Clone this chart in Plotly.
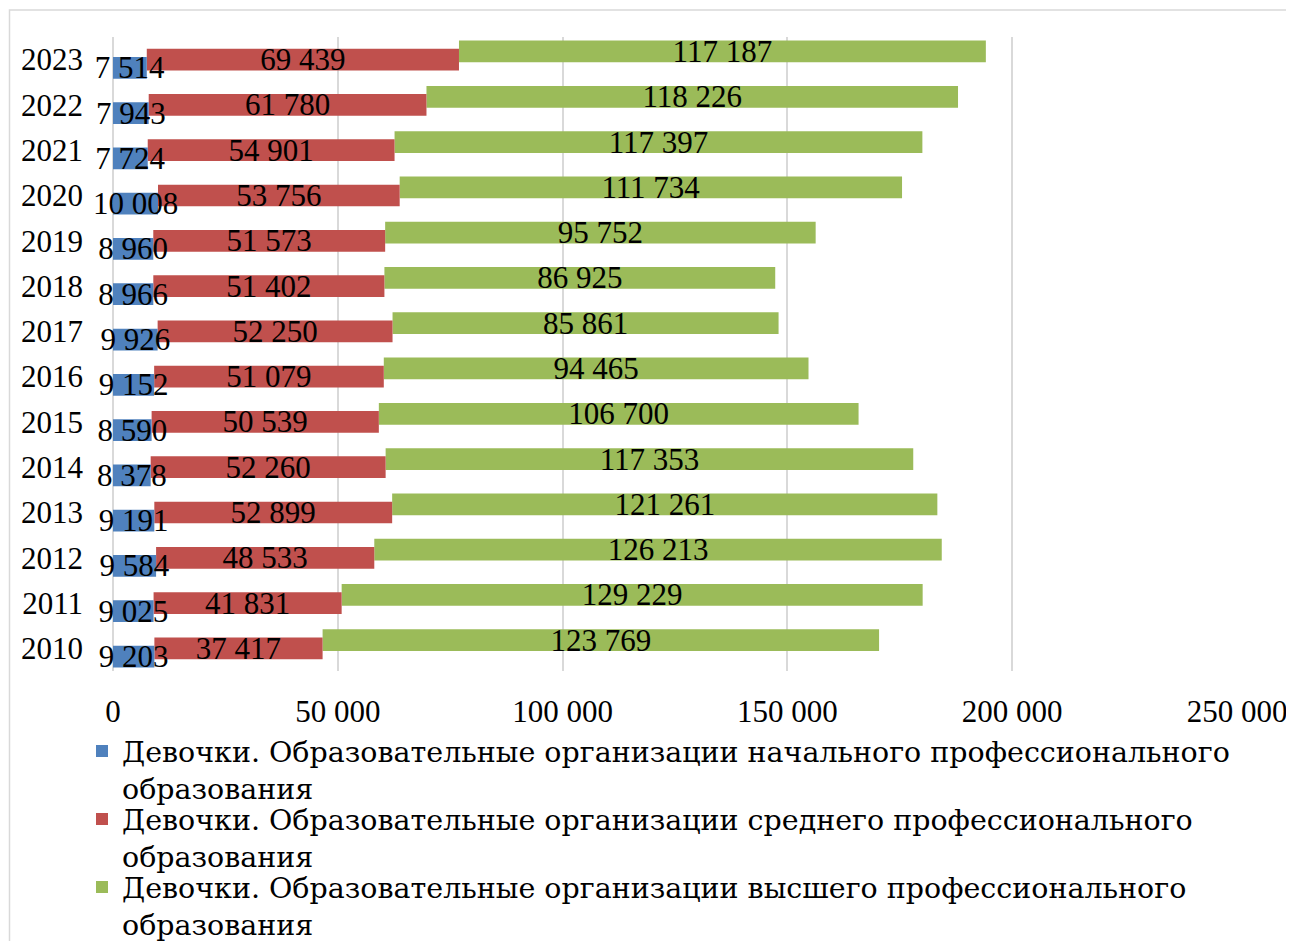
import numpy as np
import plotly.graph_objects as go

years = ["2010", "2011", "2012", "2013", "2014", "2015", "2016", "2017",
         "2018", "2019", "2020", "2021", "2022", "2023"]
primary = [9203, 9025, 9584, 9191, 8378, 8590, 9152, 9926, 8966, 8960, 10008, 7724, 7943, 7514]
secondary = [37417, 41831, 48533, 52899, 52260, 50539, 51079, 52250, 51402, 51573, 53756, 54901, 61780, 69439]
higher = [123769, 129229, 126213, 121261, 117353, 106700, 94465, 85861, 86925, 95752, 111734, 117397, 118226, 117187]
names = [
    "Девочки. Образовательные организации начального профессионального<br>образования",
    "Девочки. Образовательные организации среднего профессионального<br>образования",
    "Девочки. Образовательные организации высшего профессионального<br>образования",
]
colors = ["#4F81BD", "#C0504D", "#9BBB59"]
x_ticks = [0, 50000, 100000, 150000, 200000, 250000]

W, H = 1294, 941
OFF = 8  # page body margin
# plot area in screen pixels
SL, SR, ST, SB = 113, 1237, 37, 671
L = SL - OFF
T = ST - OFF
R = W - (SR - OFF)
B = H - (SB - OFF)
NUM_FONT = "Liberation Serif"
LEG_FONT = "DejaVu Serif"

def fmt(v):
    return f"{v:,}".replace(",", " ")

series = [primary, secondary, higher]
bar_w = 0.48
shifts = [-0.18, 0.0, 0.18]
legend_ids = ["legend", "legend2", "legend3"]

bases = []
acc = np.zeros(len(years))
for vals in series:
    bases.append(acc.copy())
    acc = acc + np.array(vals)

fig = go.Figure()
# draw in reverse so the first series' labels lie on top
for i in reversed(range(len(series))):
    vals = np.array(series[i])
    fig.add_trace(go.Bar(
        y=years, x=vals, base=bases[i], orientation="h",
        name=names[i], marker=dict(color=colors[i], line=dict(width=0)),
        width=bar_w, offset=-bar_w / 2 + shifts[i],
        text=[fmt(v) for v in vals], textposition="inside",
        insidetextanchor="middle", textangle=0, constraintext="none",
        insidetextfont=dict(family=NUM_FONT, size=31, color="black"),
        cliponaxis=False, legend=legend_ids[i], showlegend=True,
    ))

pw = W - L - R
ph = H - T - B

def px_x(sx):
    return (sx - OFF - L) / pw

def px_y(sy):
    return (H - B - (sy - OFF)) / ph

fig.update_layout(
    width=W, height=H,
    margin=dict(l=L, r=R, t=T, b=B, autoexpand=False),
    paper_bgcolor="white", plot_bgcolor="white",
    barmode="overlay",
    showlegend=True,
    separators=", ",
    font=dict(family=NUM_FONT, size=31, color="black"),
    xaxis=dict(range=[0, 250000], tickvals=x_ticks, ticktext=[fmt(v) for v in x_ticks],
               showgrid=True, gridcolor="#d9d9d9", gridwidth=1.5,
               zeroline=True, zerolinecolor="#d9d9d9", zerolinewidth=1.5,
               showline=False, ticks="", ticklabelstandoff=19, automargin=False,
               tickfont=dict(family=NUM_FONT, size=31, color="black")),
    yaxis=dict(type="category", range=[-0.5, len(years) - 0.5], showgrid=False,
               zeroline=False, showline=False, ticks="", ticklabelstandoff=29,
               automargin=False,
               tickfont=dict(family=NUM_FONT, size=31, color="black")),
)

leg_tops = [726, 794, 862]
for i, lid in enumerate(legend_ids):
    fig.layout[lid] = dict(
        xref="paper", yref="paper",
        x=px_x(82), y=px_y(leg_tops[i]), xanchor="left", yanchor="top",
        valign="top", bgcolor="rgba(0,0,0,0)", borderwidth=0,
        font=dict(family=LEG_FONT, size=28.5, color="black"),
    )

fig.add_shape(type="rect", xref="paper", yref="paper",
              x0=px_x(9.5), x1=px_x(W + 20),
              y0=px_y(H + 20), y1=px_y(10),
              line=dict(color="#d9d9d9", width=1.5), fillcolor="rgba(0,0,0,0)",
              layer="below")

fig.write_html("out.html")
